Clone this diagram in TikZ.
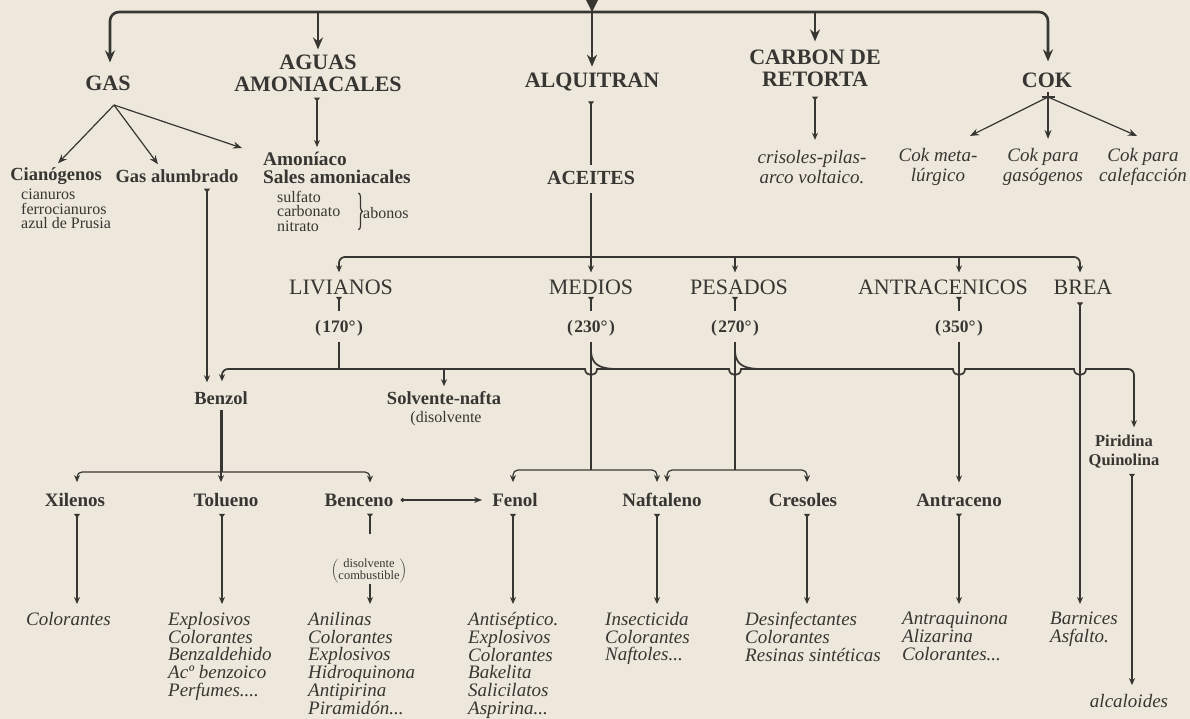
\documentclass[tikz,border=0pt]{standalone}
\usepackage{fontspec}
\setmainfont{Liberation Serif}
\usetikzlibrary{arrows.meta,decorations.pathreplacing}
\definecolor{paper}{RGB}{237,232,219}
\definecolor{ink}{RGB}{55,54,50}
\newcommand\fhd{\fontsize{22}{22}\selectfont\bfseries}
\newcommand\foil{\fontsize{22}{22}\selectfont}
\newcommand\fbl{\fontsize{19}{19}\selectfont\bfseries}
\newcommand\fbs{\fontsize{18.5}{18}\selectfont\bfseries}
\newcommand\famo{\fontsize{19.3}{18}\selectfont\bfseries}
\newcommand\ftp{\fontsize{17.5}{17}\selectfont\bfseries}
\newcommand\fit{\fontsize{19}{17.8}\selectfont\itshape}
\newcommand\fitw{\fontsize{19}{20.5}\selectfont\itshape}
\newcommand\fsm{\fontsize{16}{14.5}\selectfont}
\newcommand\ftn{\fontsize{12.5}{11.5}\selectfont}
\begin{document}
\begin{tikzpicture}[x=1pt,y=-1pt,
  every node/.style={inner sep=0pt,text=ink},
  hd/.style={font=\fhd,align=center},
  oil/.style={font=\foil},
  bl/.style={font=\fbl},
  bs/.style={font=\fbs,align=center},
  tp/.style={font=\ftp},
  prod/.style={font=\fit,align=left,anchor=north west},
  prodw/.style={font=\fitw,align=center},
  sm/.style={font=\fsm,align=left,anchor=north west},
  heavy/.style={draw=ink,line width=2.6pt,-{Stealth[length=12pt,width=10pt]}},
  medium/.style={draw=ink,line width=1.7pt},
  thin/.style={draw=ink,line width=1.2pt},
  arr/.style={-{Stealth[length=9pt,width=7pt]}},
  sarr/.style={-{Stealth[length=7pt,width=6pt]}},
  tarr/.style={{Triangle[reversed,length=4pt,width=6pt]}-{Stealth[length=7pt,width=6pt]}},
  tl/.style={{Triangle[reversed,length=4pt,width=6pt]}-},
]
\fill[paper] (0,0) rectangle (1190,719);
\useasboundingbox (0,0) rectangle (1190,719);

% ---------- top level ----------
\node[hd] (gas) at (108,83) {GAS};
\node[hd] (aguas) at (318,73) {AGUAS\\AMONIACALES};
\node[hd] (alq) at (592,82) {ALQUITRAN};
\node[hd] (carb) at (815,68) {CARBON DE\\RETORTA};
\node[hd] (cok) at (1047,80) {COK};

\coordinate (top) at (592,0);
\coordinate (tb) at (592,12);
\fill[ink] (586,0) -- (598,0) -- (592,12) -- cycle;
\draw[heavy,rounded corners=9pt] (tb) -| ([shift={(2,-13)}]gas.north);
\draw[heavy,rounded corners=9pt] (tb) -| ([shift={(1,-11)}]cok.north);
\draw[heavy] (aguas.north |- tb) -- ([shift={(0,-5)}]aguas.north);
\draw[heavy] (top) -- ([shift={(0,-6)}]alq.north);
\draw[heavy] (carb.north |- tb) -- ([shift={(0,-8)}]carb.north);

% ---------- GAS ----------
\node[bs] (cian) at (56,176) {Cianógenos};
\node[bs] (galum) at (177,176) {Gas alumbrado};
\node[font=\famo,align=left,anchor=north west] (amon) at (263,152) {Amoníaco\\Sales amoniacales};
\coordinate (gj) at (114,105);
\draw[thin,arr] (gj) -- ([shift={(2,-4)}]cian.north);
\draw[thin,arr] (gj) -- ([shift={(-19,-5)}]galum.north);
\draw[thin,arr] (gj) -- ([shift={(-21,-4)}]amon.north west);
\node[sm] (cianl) at (21,189) {cianuros\\ferrocianuros\\azul de Prusia};
\node[sm] (sulf) at (277,191) {sulfato\\carbonato\\nitrato};
\draw[thin,decorate,decoration={brace,amplitude=4pt}] ([shift={(18,2)}]sulf.north east) -- ([shift={(18,-2)}]sulf.south east);
\node[font=\fsm,anchor=west] (abon) at (363,213) {abonos};
\draw[medium,tarr] ([shift={(-1,6)}]aguas.south) -- ([shift={(54,-5)}]amon.north west);

% ---------- CARBON / COK ----------
\node[prodw] (cris) at (812,167) {crisoles-pilas-\\arco voltaico.};
\draw[medium,tarr] ([shift={(0,10)}]carb.south) -- ([shift={(3,-10)}]cris.north);
\node[prodw] (cok1) at (938,167) {Cok meta-\\lúrgico};
\node[prodw] (cok2) at (1043,167) {Cok para\\gasógenos};
\node[prodw] (cok3) at (1143,167) {Cok para\\calefacción};
\coordinate (cj) at (1048,97);
\draw[medium] ([shift={(1,4)}]cok.south) -- (cj);
\draw[medium] (1042,97) -- (1055,97);
\draw[thin,arr] (cj) -- ([shift={(32,-12)}]cok1.north);
\draw[thin,arr] (cj) -- ([shift={(5,-9)}]cok2.north);
\draw[thin,arr] (cj) -- ([shift={(-6,-12)}]cok3.north);

% ---------- ALQUITRAN ----------
\node[font=\fontsize{20}{20}\selectfont\bfseries] (acei) at (591,178) {ACEITES};
\draw[medium,tl] ([shift={(-1,10)}]alq.south) -- ([shift={(0,-6)}]acei.north);
\coordinate (ob) at (591,257);
\draw[medium] ([shift={(0,8)}]acei.south) -- (ob);

\node[oil] (liv) at (341,287) {LIVIANOS};
\node[oil] (med) at (591,287) {MEDIOS};
\node[oil] (pes) at (739,287) {PESADOS};
\node[oil] (ant) at (943,287) {ANTRACENICOS};
\node[oil] (brea) at (1083,287) {BREA};
\draw[medium,sarr,rounded corners=6pt] (ob) -| ([shift={(-2,-7)}]liv.north);
\draw[medium,sarr,rounded corners=6pt] (ob) -| ([shift={(-3,-7)}]brea.north);
\draw[medium,sarr] (ob) -- ([shift={(0,-7)}]med.north);
\draw[medium,sarr] ([shift={(-4,-23)}]pes.north) -- ([shift={(-4,-7)}]pes.north);
\draw[medium,sarr] ([shift={(16,-23)}]ant.north) -- ([shift={(16,-7)}]ant.north);

\node[tp] (t170) at (339,328) {(\kern1.5pt170°\kern1.5pt)};
\node[tp] (t230) at (591,328) {(\kern1.5pt230°\kern1.5pt)};
\node[tp] (t270) at (735,328) {(\kern1.5pt270°\kern1.5pt)};
\node[tp] (t350) at (959,328) {(\kern1.5pt350°\kern1.5pt)};
\foreach \t in {t170,t230,t270,t350}
  \draw[medium,tl] ([shift={(0,-23)}]\t.north) -- ([shift={(0,-9)}]\t.north);

% ---------- lower bus ----------
\node[bs] (benz) at (221,398) {Benzol};
\node[bs] (solv) at (444,398) {Solvente-nafta};
\node[font=\fsm] (disv) at (446,419) {(disolvente};
\node[font=\fontsize{16.5}{19}\selectfont\bfseries,align=center] (pir) at (1124,452) {Piridina\\Quinolina};
\coordinate (lb) at (339,369);
\draw[medium,{Stealth[length=7pt,width=6pt]}-{Stealth[length=7pt,width=6pt]}]
  ([shift={(1,-10)}]benz.north) [rounded corners=6pt] |- (lb) [sharp corners]
  -- (585,369) .. controls (585,377) and (597,377) .. (597,369)
  -- (729,369) .. controls (729,377) and (741,377) .. (741,369)
  -- (953,369) .. controls (953,377) and (965,377) .. (965,369)
  -- (1074,369) .. controls (1074,377) and (1086,377) .. (1086,369)
  [rounded corners=6pt] -| ([shift={(10,-8)}]pir.north);
\draw[medium] ([shift={(0,6)}]t170.south) -- (lb);
\draw[medium,sarr] (solv |- lb) -- ([shift={(0,-5)}]solv.north);
\draw[thin,tarr] ([shift={(30,6)}]galum.south) -- ([shift={(-14,-9)}]benz.north);
% merge curves
\draw[medium] (591,352) .. controls (592,365) and (600,369) .. (618,369);
\draw[medium] (735,352) .. controls (736,365) and (744,369) .. (762,369);

% ---------- row of products ----------
\node[bl] (xil) at (75,500) {Xilenos};
\node[bl] (tol) at (226,500) {Tolueno};
\node[bl] (benc) at (359,500) {Benceno};
\node[bl] (fen) at (515,500) {Fenol};
\node[bl] (naft) at (662,500) {Naftaleno};
\node[bl] (cres) at (803,500) {Cresoles};
\node[bl] (antr) at (959,500) {Antraceno};

\coordinate (bz) at (221,472);
\draw[ink,line width=3pt] ([shift={(0,5)}]benz.south) -- (bz);
\draw[thin,sarr,rounded corners=5pt] (bz) -| ([shift={(2,-11)}]xil.north);
\draw[thin,sarr,rounded corners=5pt] (bz) -| ([shift={(11,-11)}]benc.north);
\draw[thin,sarr] (bz) -- ([shift={(-5,-11)}]tol.north);

\coordinate (fn) at (591,470);
\coordinate (pc) at (735,470);
\draw[medium] ([shift={(0,6)}]t230.south) -- (fn);
\draw[medium] ([shift={(0,6)}]t270.south) -- (pc);
\draw[thin,sarr,rounded corners=5pt] (fn) -| ([shift={(-2,-11)}]fen.north);
\draw[thin,sarr,rounded corners=5pt] (fn) -| ([shift={(-5,-11)}]naft.north);
\draw[thin,sarr,rounded corners=5pt] (pc) -| ([shift={(5,-11)}]naft.north);
\draw[thin,sarr,rounded corners=5pt] (pc) -| ([shift={(4,-11)}]cres.north);
\draw[medium,sarr] ([shift={(0,6)}]t350.south) -- ([shift={(0,-11)}]antr.north);
\draw[thin,{Circle[length=4pt]}-{Stealth[length=8pt,width=6pt]}] ([xshift=7pt]benc.east) -- ([xshift=-10pt]fen.west);

% ---------- final products ----------
\node[prod] (xilp) at (26,612) {Colorantes};
\node[prod] (tolp) at (168,612) {Explosivos\\Colorantes\\Benzaldehido\\Acº benzoico\\Perfumes....};
\node[prod] (bencp) at (308,612) {Anilinas\\Colorantes\\Explosivos\\Hidroquinona\\Antipirina\\Piramidón...};
\node[prod] (fenp) at (468,612) {Antiséptico.\\Explosivos\\Colorantes\\Bakelita\\Salicilatos\\Aspirina...};
\node[prod] (naftp) at (605,612) {Insecticida\\Colorantes\\Naftoles...};
\node[prod] (cresp) at (745,612) {Desinfectantes\\Colorantes\\Resinas sintéticas};
\node[prod] (antrp) at (902,612) {Antraquinona\\Alizarina\\Colorantes...};
\node[prod] (barnp) at (1050,612) {Barnices\\Asfalto.};
\node[font=\fit] (alca) at (1129,701) {alcaloides};
\node[font=\ftn] (bcp) at (369,571) {$\left(\vcenter{\hbox{\ftn\begin{tabular}{@{}c@{}}disolvente\\combustible\end{tabular}}}\right)$};

\draw[thin,tarr] ([shift={(2,7)}]xil.south) -- ([shift={(51,-8)}]xilp.north west);
\draw[thin,tarr] ([shift={(-4,7)}]tol.south) -- ([shift={(54,-8)}]tolp.north west);
\draw[thin,tl] ([shift={(11,7)}]benc.south) -- ([shift={(11,27)}]benc.south);
\draw[thin,sarr] ([shift={(1,1)}]bcp.south) -- ([shift={(62,-8)}]bencp.north west);
\draw[thin,tarr] ([shift={(-2,7)}]fen.south) -- ([shift={(45,-8)}]fenp.north west);
\draw[thin,tarr] ([shift={(-5,7)}]naft.south) -- ([shift={(52,-8)}]naftp.north west);
\draw[thin,tarr] ([shift={(4,7)}]cres.south) -- ([shift={(62,-8)}]cresp.north west);
\draw[thin,tarr] ([shift={(0,7)}]antr.south) -- ([shift={(57,-8)}]antrp.north west);
\draw[medium,tarr] ([shift={(-3,8)}]brea.south) -- ([shift={(30,-8)}]barnp.north west);
\draw[thin,tarr] ([shift={(8,5)}]pir.south) -- ([shift={(3,-9)}]alca.north);
\end{tikzpicture}
\end{document}
